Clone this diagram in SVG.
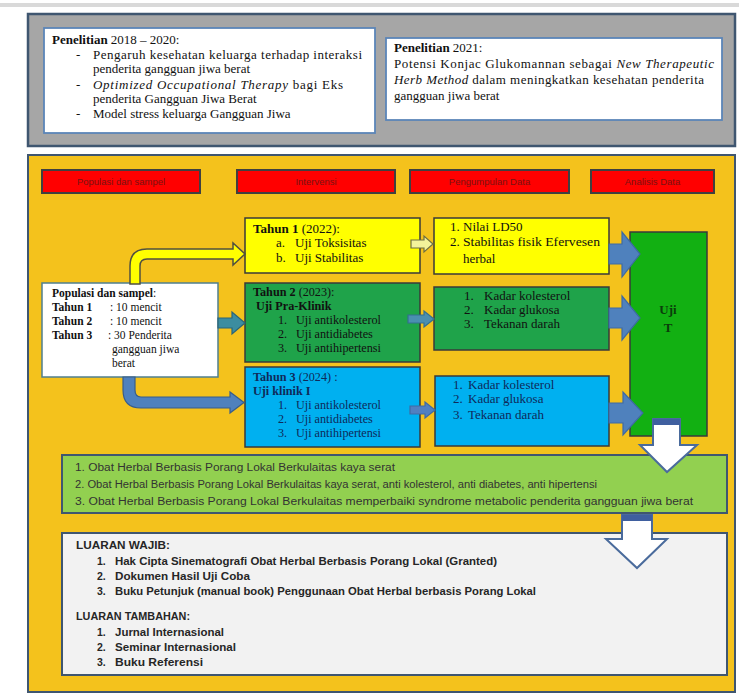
<svg xmlns="http://www.w3.org/2000/svg" width="739" height="695" viewBox="0 0 739 695">
<style>
.serif{font-family:"Liberation Serif","Times New Roman",serif;font-size:13px;fill:#111}
.sm{font-size:11.5px}
.md{font-size:12.2px}
.b{font-weight:bold}
.i{font-style:italic}
.hdr{font-family:"Liberation Sans",Arial,sans-serif;font-size:9.5px;fill:#7a1212;text-anchor:middle}
.sans{font-family:"Liberation Sans",Arial,sans-serif;font-size:10px;fill:#333}
.out{font-family:"Liberation Sans",Arial,sans-serif;font-size:10.5px;font-weight:bold;fill:#262626}
.hbox{fill:#ff0000;stroke:#404040;stroke-width:2}
.wbox{fill:#ffffff;stroke:#5b85b8;stroke-width:1.8}
.nbox{stroke:#3a3a3a;stroke-width:1.5}
.bigarr{fill:#4f81bd;stroke:#3e6aa3;stroke-width:1.2}
.warr{fill:#ffffff;stroke:#4a6b9c;stroke-width:2}
.nv{fill:#0f2a5a}
</style>
<rect x="0" y="0" width="739" height="695" fill="#ffffff"/>
<rect x="0" y="3" width="739" height="4" fill="#d9d9d9"/>

<g id="research-panel">
<rect x="28" y="14" width="707" height="132" fill="#a6a6a6" stroke="#3f5670" stroke-width="2.5"/>
</g>
<g id="research-2018">
<rect class="wbox" x="44" y="28" width="331" height="105"/>
<text class="serif" x="52" y="44"><tspan class="b">Penelitian</tspan> 2018 – 2020:</text>
<text class="serif" x="76" y="59">-</text>
<text class="serif" x="93" y="59" textLength="269" lengthAdjust="spacing">Pengaruh kesehatan keluarga terhadap interaksi</text>
<text class="serif" x="93" y="73">penderita gangguan jiwa berat</text>
<text class="serif" x="76" y="89">-</text>
<text class="serif" x="93" y="89" textLength="250" lengthAdjust="spacing"><tspan class="i">Optimized  Occupational Therapy</tspan> bagi Eks</text>
<text class="serif" x="93" y="103">penderita Gangguan Jiwa Berat</text>
<text class="serif" x="76" y="118">-</text>
<text class="serif" x="93" y="118">Model stress keluarga Gangguan Jiwa</text>
</g>
<g id="research-2021">
<rect class="wbox" x="386" y="38" width="336" height="82"/>
<text class="serif" x="394" y="52"><tspan class="b">Penelitian</tspan> 2021:</text>
<text class="serif" x="394" y="68" textLength="320" lengthAdjust="spacing">Potensi Konjac Glukomannan sebagai <tspan class="i">New Therapeutic</tspan></text>
<text class="serif" x="394" y="84" textLength="310" lengthAdjust="spacing"><tspan class="i">Herb Method</tspan> dalam meningkatkan kesehatan penderita</text>
<text class="serif" x="394" y="100">gangguan jiwa berat</text>
</g>

<g id="main-panel">
<rect x="28" y="155" width="707" height="537" fill="#f4c21c" stroke="#3f5670" stroke-width="2"/>
</g>

<g id="hdr-populasi"><rect class="hbox" x="42" y="170" width="158" height="23"/><text class="hdr" x="121" y="185">Populasi dan sampel</text></g>
<g id="hdr-intervensi"><rect class="hbox" x="237" y="170" width="158" height="23"/><text class="hdr" x="316" y="185">Intervensi</text></g>
<g id="hdr-pengumpulan"><rect class="hbox" x="410" y="170" width="159" height="23"/><text class="hdr" x="489.5" y="185">Pengumpulan Data</text></g>
<g id="hdr-analisis"><rect class="hbox" x="591" y="170" width="123" height="23"/><text class="hdr" x="652.5" y="185">Analisis Data</text></g>

<g id="populasi">
<rect x="42" y="283" width="176" height="94" fill="#ffffff" stroke="#4f7f8f" stroke-width="1.5"/>
<text class="serif sm" x="52" y="297"><tspan class="b">Populasi dan sampel</tspan>:</text>
<text class="serif sm b" x="52" y="311">Tahun 1</text><text class="serif sm" x="110" y="311">: 10 mencit</text>
<text class="serif sm b" x="52" y="325">Tahun 2</text><text class="serif sm" x="110" y="325">: 10 mencit</text>
<text class="serif sm b" x="52" y="339">Tahun 3</text><text class="serif sm" x="108" y="339">: 30 Penderita</text>
<text class="serif sm" x="112" y="353">gangguan jiwa</text>
<text class="serif sm" x="112" y="367">berat</text>
</g>

<g id="tahun1">
<rect class="nbox" x="245" y="218" width="175" height="55" fill="#ffff00"/>
<text class="serif" x="253" y="233"><tspan class="b">Tahun 1</tspan> (2022):</text>
<text class="serif" x="276" y="247">a.</text><text class="serif" x="295" y="247">Uji Toksisitas</text>
<text class="serif" x="276" y="262">b.</text><text class="serif" x="295" y="262">Uji Stabilitas</text>
</g>
<g id="tahun2">
<rect class="nbox" x="245" y="283" width="175" height="79" fill="#1fa34a"/>
<text class="serif md" x="253" y="296"><tspan class="b">Tahun 2</tspan> (2023):</text>
<text class="serif md b" x="256" y="310">Uji Pra-Klinik</text>
<text class="serif md" x="278" y="324">1.</text><text class="serif md" x="296" y="324">Uji antikolesterol</text>
<text class="serif md" x="278" y="338">2.</text><text class="serif md" x="296" y="338">Uji antidiabetes</text>
<text class="serif md" x="278" y="352">3.</text><text class="serif md" x="296" y="352">Uji antihipertensi</text>
</g>
<g id="tahun3">
<rect class="nbox" x="245" y="367" width="175" height="80" fill="#00b0f0"/>
<text class="serif md nv" x="253" y="381"><tspan class="b">Tahun 3</tspan> (2024) :</text>
<text class="serif md b nv" x="253" y="395">Uji klinik I</text>
<text class="serif md nv" x="278" y="409">1.</text><text class="serif md nv" x="296" y="409">Uji antikolesterol</text>
<text class="serif md nv" x="278" y="423">2.</text><text class="serif md nv" x="296" y="423">Uji antidiabetes</text>
<text class="serif md nv" x="278" y="437">3.</text><text class="serif md nv" x="296" y="437">Uji antihipertensi</text>
</g>

<g id="data1">
<rect class="nbox" x="434" y="218" width="175" height="56" fill="#ffff00"/>
<text class="serif" x="450" y="231">1.</text><text class="serif" x="463" y="231">Nilai LD50</text>
<text class="serif" x="450" y="246">2.</text><text class="serif" x="463" y="246" textLength="137" lengthAdjust="spacingAndGlyphs">Stabilitas fisik Efervesen</text>
<text class="serif" x="463" y="263">herbal</text>
</g>
<g id="data2">
<rect class="nbox" x="434" y="287" width="175" height="63" fill="#1fa34a"/>
<text class="serif" x="464" y="300">1.</text><text class="serif" x="484" y="300">Kadar kolesterol</text>
<text class="serif" x="464" y="314">2.</text><text class="serif" x="484" y="314">Kadar glukosa</text>
<text class="serif" x="464" y="328">3.</text><text class="serif" x="484" y="328">Tekanan darah</text>
</g>
<g id="data3">
<rect class="nbox" x="435" y="376" width="174" height="70" fill="#00b0f0"/>
<text class="serif nv" x="453" y="389">1.</text><text class="serif nv" x="468" y="389">Kadar kolesterol</text>
<text class="serif nv" x="453" y="403">2.</text><text class="serif nv" x="468" y="403">Kadar glukosa</text>
<text class="serif nv" x="453" y="419">3.</text><text class="serif nv" x="468" y="419">Tekanan darah</text>
</g>

<g id="ujiT">
<rect class="nbox" x="630" y="232" width="77" height="204" fill="#12b012"/>
<text class="serif b" x="668" y="314" text-anchor="middle" style="fill:#0b3d0b">Uji</text>
<text class="serif b" x="668" y="332" text-anchor="middle" style="fill:#0b3d0b">T</text>
</g>

<g id="hasil">
<rect x="62" y="455" width="665" height="58" fill="#92d050" stroke="#3f5670" stroke-width="2"/>
<text class="sans" x="75" y="471" textLength="320" lengthAdjust="spacingAndGlyphs">1.  Obat Herbal  Berbasis Porang Lokal Berkulaitas kaya serat</text>
<text class="sans" x="75" y="488" textLength="522" lengthAdjust="spacingAndGlyphs">2.  Obat Herbal  Berbasis Porang Lokal Berkulaitas kaya serat, anti kolesterol, anti diabetes, anti hipertensi</text>
<text class="sans" x="75" y="505" textLength="618" lengthAdjust="spacingAndGlyphs">3.  Obat Herbal  Berbasis Porang Lokal Berkulaitas  memperbaiki  syndrome metabolic penderita gangguan jiwa berat</text>
</g>

<g id="luaran">
<rect x="62" y="533" width="665" height="142" fill="#f2f2f2" stroke="#3f5670" stroke-width="2"/>
<text class="out" x="76" y="549" textLength="94" lengthAdjust="spacingAndGlyphs">LUARAN WAJIB:</text>
<text class="out" x="97" y="565">1.</text><text class="out" x="115" y="565" textLength="382" lengthAdjust="spacingAndGlyphs">Hak Cipta Sinematografi  Obat Herbal Berbasis Porang Lokal (Granted)</text>
<text class="out" x="97" y="580">2.</text><text class="out" x="115" y="580" textLength="135" lengthAdjust="spacingAndGlyphs">Dokumen Hasil Uji Coba</text>
<text class="out" x="97" y="595">3.</text><text class="out" x="115" y="595" textLength="421" lengthAdjust="spacingAndGlyphs">Buku Petunjuk (manual book) Penggunaan Obat Herbal berbasis Porang Lokal</text>
<text class="out" x="76" y="620" textLength="114" lengthAdjust="spacingAndGlyphs">LUARAN TAMBAHAN:</text>
<text class="out" x="97" y="636">1.</text><text class="out" x="115" y="636" textLength="109" lengthAdjust="spacingAndGlyphs">Jurnal Internasional</text>
<text class="out" x="97" y="651">2.</text><text class="out" x="115" y="651" textLength="121" lengthAdjust="spacingAndGlyphs">Seminar Internasional</text>
<text class="out" x="97" y="666">3.</text><text class="out" x="115" y="666" textLength="88" lengthAdjust="spacingAndGlyphs">Buku Referensi</text>
</g>

<g id="connectors">
<path d="M130,284 V266 Q130,249 147,249 H233 V243 L245,254 L233,265 V259 H147 Q140,259 140,266 V284 Z" fill="#ffff00" stroke="#505040" stroke-width="1.5"/>
<path d="M218,318 H232 V312 L245,323 L232,334 V328 H218 Z" fill="#3c8da0" stroke="#2a6478" stroke-width="1.2"/>
<path d="M123,377 V390 Q123,408 141,408 H230 V413 L244,402.5 L230,392 V397 H141 Q135,397 135,390 V377 Z" fill="#4f81bd" stroke="#385d8a" stroke-width="1.2"/>
<path d="M411,240 H424 V236 L433,244 L424,252 V248 H411 Z" fill="#f3f39a" stroke="#6f6f40" stroke-width="1.2"/>
<path d="M408,315 H424 V311 L434,319 L424,327 V323 H408 Z" fill="#4a8fb0" stroke="#33708f" stroke-width="1.2"/>
<path d="M410,406 H425 V402 L435,410 L425,418 V414 H410 Z" fill="#5080c0" stroke="#3e6aa3" stroke-width="1.2"/>
<path class="bigarr" d="M609,244 H622 V232 L640,254 L622,277 V264 H609 Z"/>
<path class="bigarr" d="M609,308 H622 V296 L640,318 L622,340 V328 H609 Z"/>
<path class="bigarr" d="M609,403 H623 V392 L643,413 L623,435 V423 H609 Z"/>
<path class="warr" d="M653,419 H680 V445 H697 L667,472 L640,445 H653 Z"/>
<rect x="653" y="419" width="27" height="6" fill="#3f5f9f"/>
<path class="warr" d="M622,515 H652 V539 H667 L637,568 L606,539 H622 Z"/>
<rect x="622" y="515" width="30" height="6" fill="#3f5f9f"/>
</g>
</svg>
